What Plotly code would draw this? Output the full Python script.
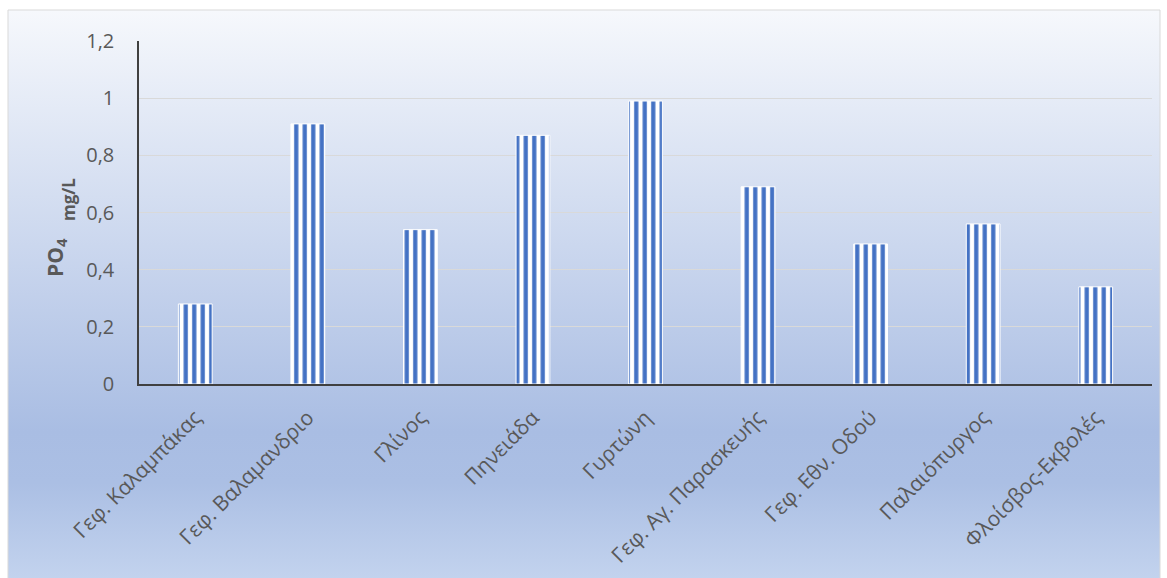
import base64
import plotly.graph_objects as go

categories = ["Γεφ. Καλαμπάκας", "Γεφ. Βαλαμανδριο", "Γλίνος", "Πηνειάδα", "Γυρτώνη",
              "Γεφ. Αγ. Παρασκευής", "Γεφ. Εθν. Οδού", "Παλαιόπυργος", "Φλοίσβος-Εκβολές"]
po4_values = [0.28, 0.91, 0.54, 0.87, 0.99, 0.69, 0.49, 0.56, 0.34]
y_ticks = [0, 0.2, 0.4, 0.6, 0.8, 1.0, 1.2]

W, H = 1167, 578
# plot area in page pixels
PL, PR, PT, PB = 139, 1152, 41, 384
L, T, R, B = PL, PT, W - PR, H - PB
pw, ph = W - L - R, H - T - B

def px_x(p):
    return (p - L) / pw

def px_y(p):
    return (H - B - p) / ph

svg = """<svg xmlns='http://www.w3.org/2000/svg' width='100' height='100' preserveAspectRatio='none'>
<defs><linearGradient id='g' x1='0' y1='0' x2='0' y2='1'>
<stop offset='0' stop-color='#f6f8fc'/>
<stop offset='0.74' stop-color='#a9bde3'/>
<stop offset='0.83' stop-color='#abbfe4'/>
<stop offset='1' stop-color='#c3d3ee'/>
</linearGradient></defs>
<rect width='100' height='100' fill='url(#g)'/></svg>"""
src = "data:image/svg+xml;base64," + base64.b64encode(svg.encode()).decode()

fig = go.Figure()
fig.add_trace(go.Bar(
    x=categories, y=po4_values, width=0.3,
    marker=dict(color="white",
                line=dict(color="white", width=1),
                pattern=dict(shape="|", fgcolor="#4472c4", bgcolor="white",
                             size=8.5, solidity=0.5, fillmode="replace")),
    hoverinfo="x+y",
))

x0, x1 = 8, 1160
y0, y1 = 10, 580
fig.add_layout_image(dict(source=src, xref="paper", yref="paper",
                          x=px_x(x0), y=px_y(y0), sizex=(x1 - x0) / pw, sizey=(y1 - y0) / ph,
                          sizing="stretch", layer="below", xanchor="left", yanchor="top"))
fig.add_shape(type="rect", xref="paper", yref="paper",
              x0=px_x(x0), x1=px_x(x1), y0=px_y(y1 + 5), y1=px_y(y0),
              line=dict(color="#d9d9d9", width=1), fillcolor="rgba(0,0,0,0)", layer="below")

font_family = "Open Sans"
title_color = "#595959"
# y-axis title as two rotated annotations
fig.add_annotation(text="<b>PO<sub>4</sub></b>", xref="paper", yref="paper",
                   x=px_x(56), y=px_y(258), xanchor="center", yanchor="middle",
                   textangle=-90, showarrow=False,
                   font=dict(size=21, color=title_color, family=font_family))
fig.add_annotation(text="<b>mg/L</b>", xref="paper", yref="paper",
                   x=px_x(68), y=px_y(200), xanchor="center", yanchor="middle",
                   textangle=-90, showarrow=False,
                   font=dict(size=17, color=title_color, family=font_family))

fig.update_layout(
    width=W, height=H,
    margin=dict(l=L, r=R, t=T, b=B),
    paper_bgcolor="white", plot_bgcolor="rgba(0,0,0,0)",
    separators=", ",
    showlegend=False,
    font=dict(family=font_family, color="#595959"),
    bargap=0.7,
)
fig.update_yaxes(
    range=[0, 1.2], tickvals=y_ticks, showgrid=True, gridcolor="#d9d9d9", gridwidth=1,
    showline=True, linecolor="#404040", linewidth=1.5, zeroline=False,
    tickfont=dict(size=20, color="#595959", family=font_family),
    ticklabelstandoff=19, automargin=False,
)
fig.update_xaxes(
    showline=True, linecolor="#404040", linewidth=2, tickangle=-45,
    tickfont=dict(size=21, color="#595959", family=font_family),
    ticks="", ticklabelstandoff=11, automargin=False,
)

fig.write_html("out.html", config={"displayModeBar": False},
               post_script="document.body.style.margin='0';document.body.style.overflow='hidden';")
